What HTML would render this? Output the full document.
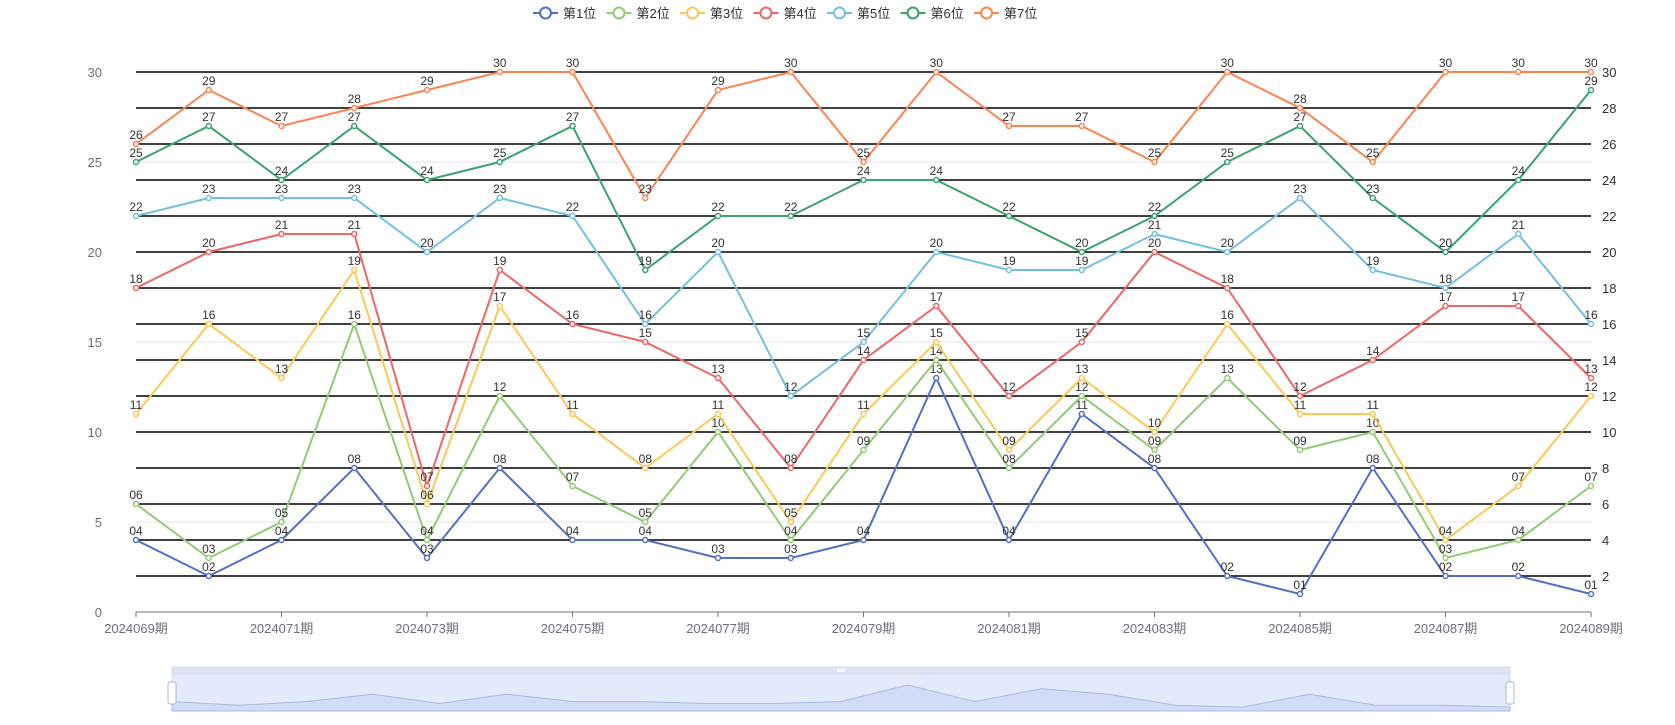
<!DOCTYPE html>
<html><head><meta charset="utf-8"><style>
body{margin:0;background:#fff;}
svg text{font-family:"Liberation Sans","Noto Sans CJK SC",sans-serif;}
</style></head><body>
<svg id="c" width="1675" height="720" xmlns="http://www.w3.org/2000/svg"></svg>
<script>
const categories=["2024069期","2024070期","2024071期","2024072期","2024073期","2024074期","2024075期","2024076期","2024077期","2024078期","2024079期","2024080期","2024081期","2024082期","2024083期","2024084期","2024085期","2024086期","2024087期","2024088期","2024089期"];
const seriesNames=["第1位","第2位","第3位","第4位","第5位","第6位","第7位"];
const s1=[4,2,4,8,3,8,4,4,3,3,4,13,4,11,8,2,1,8,2,2,1];
const s2=[6,3,5,16,4,12,7,5,10,4,9,14,8,12,9,13,9,10,3,4,7];
const s3=[11,16,13,19,6,17,11,8,11,5,11,15,9,13,10,16,11,11,4,7,12];
const s4=[18,20,21,21,7,19,16,15,13,8,14,17,12,15,20,18,12,14,17,17,13];
const s5=[22,23,23,23,20,23,22,16,20,12,15,20,19,19,21,20,23,19,18,21,16];
const s6=[25,27,24,27,24,25,27,19,22,22,24,24,22,20,22,25,27,23,20,24,29];
const s7=[26,29,27,28,29,30,30,23,29,30,25,30,27,27,25,30,28,25,30,30,30];
const leftTicks=[0,5,10,15,20,25,30];
const rightTicks=[2,4,6,8,10,12,14,16,18,20,22,24,26,28,30];
const colors=["#5470c6","#91cc75","#fac858","#ee6666","#73c0de","#3ba272","#fc8452"];
const allSeries=[s1,s2,s3,s4,s5,s6,s7];
const NS="http://www.w3.org/2000/svg";
const svg=document.getElementById('c');
const X0=136,X1=1591,Y0=612,Y30=72;
const xs=i=>X0+(X1-X0)*i/(categories.length-1);
const ys=v=>Y0-(Y0-Y30)*v/30;
function mk(t,a,p){const e=document.createElementNS(NS,t);for(const k in a)e.setAttribute(k,a[k]);(p||svg).appendChild(e);return e;}
// left split lines
leftTicks.forEach(v=>{
 if(v>0){const l=mk('line',{x1:X0,x2:X1,y1:ys(v),y2:ys(v),stroke:'#e0e6f1'});
 
 }
 const t=mk('text',{x:102,y:ys(v)+5,'text-anchor':'end','font-size':13,fill:'#6e7079'});t.textContent=v;
 
 
});
rightTicks.forEach(v=>{
 const l=mk('line',{x1:X0,x2:X1,y1:ys(v),y2:ys(v),stroke:'#000','stroke-width':1.5});
 
 
 const t=mk('text',{x:1602,y:ys(v)+5,'font-size':13,fill:'#333'});t.textContent=v;
 
 
});
// x axis
const ax=mk('line',{x1:X0,x2:X1,y1:Y0,y2:Y0,stroke:'#6e7079'});


categories.forEach((c,i)=>{
 if(i%2==0){
  mk('line',{x1:xs(i),x2:xs(i),y1:Y0,y2:Y0+5,stroke:'#6e7079'});
  const t=mk('text',{x:xs(i),y:Y0+21,'text-anchor':'middle','font-size':13,fill:'#6e7079'});t.textContent=c;
  
  
 }
});
// series
allSeries.forEach((s,k)=>{
 const g=mk('g',{});
 
 
 const p=mk('polyline',{points:s.map((v,i)=>xs(i)+','+ys(v)).join(' '),fill:'none',stroke:colors[k],'stroke-width':2},g);
 
 
 s.forEach((v,i)=>{
  const c=mk('circle',{cx:xs(i),cy:ys(v),r:2.5,fill:'#fff',stroke:colors[k],'stroke-width':1.5},g);
  
  
  const t=mk('text',{x:xs(i),y:ys(v)-5,'text-anchor':'middle','font-size':12,fill:'#333'},g);
  t.textContent=(v<10?'0':'')+v;
  
  
 });
});
// legend
seriesNames.forEach((n,k)=>{
 const x=533+k*73.5;
 const g=mk('g',{});
 
 
 mk('line',{x1:x,x2:x+25,y1:13,y2:13,stroke:colors[k],'stroke-width':2},g);
 mk('circle',{cx:x+12.5,cy:13,r:5.5,fill:'#fff',stroke:colors[k],'stroke-width':2},g);
 const t=mk('text',{x:x+30,y:18,'font-size':13,fill:'#333'},g);t.textContent=n;
});
// data zoom
const dz=mk('g',{});


const ZX0=172,ZX1=1510,ZT=667,ZB=711;
mk('rect',{x:ZX0,y:ZT,width:ZX1-ZX0,height:ZB-ZT,fill:'#e3eafb',stroke:'#d2dbee'},dz);
mk('rect',{x:ZX0,y:ZT,width:ZX1-ZX0,height:8,fill:'#dde3f3'},dz);
const zs=v=>ZB-2-(ZB-ZT-20)*v/13;
const zx=i=>ZX0+(ZX1-ZX0)*i/(categories.length-1);
mk('polygon',{points:ZX0+','+ZB+' '+s1.map((v,i)=>zx(i)+','+zs(v)).join(' ')+' '+ZX1+','+ZB,fill:'#d2dcf6',stroke:'#a9b9e9','stroke-width':1},dz);
[ZX0,ZX1].forEach(x=>{
 const h=mk('rect',{x:x-4,y:682,width:8,height:22,rx:2,fill:'#fff',stroke:'#a8b8da'},dz);
 
 
});
mk('rect',{x:(ZX0+ZX1)/2-4,y:669,width:8,height:3,fill:'#fff'},dz);
</script>
</body></html>
